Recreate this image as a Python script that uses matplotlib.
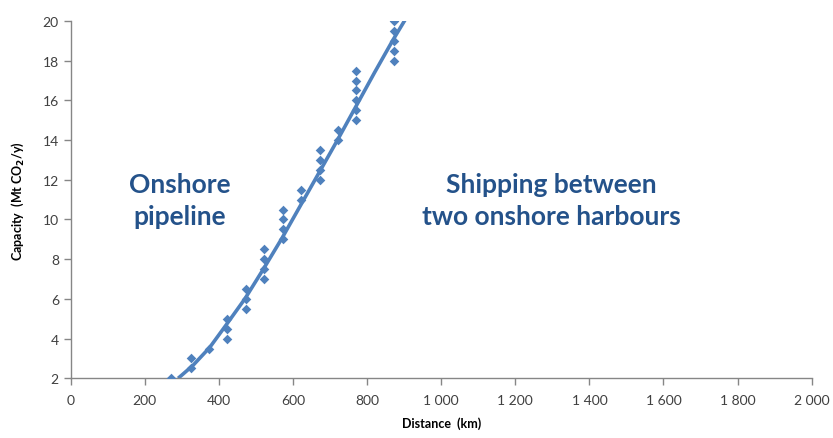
import numpy as np
import matplotlib
matplotlib.use("Agg")
import matplotlib.pyplot as plt

# scatter points (distance km, capacity Mt CO2/y)
dist = [272, 324, 324, 374,
        423, 423, 423,
        472, 472, 472,
        523, 523, 523, 523,
        572, 572, 572, 572,
        621, 621,
        672, 672, 672, 672,
        721, 721,
        770, 770, 770, 770, 770, 770,
        872, 872, 872, 872, 872]
cap = [2.0, 2.5, 3.0, 3.5,
       4.0, 4.5, 5.0,
       5.5, 6.0, 6.5,
       7.0, 7.5, 8.0, 8.5,
       9.0, 9.5, 10.0, 10.5,
       11.0, 11.5,
       12.0, 12.5, 13.0, 13.5,
       14.0, 14.5,
       15.0, 15.5, 16.0, 16.5, 17.0, 17.5,
       18.0, 18.5, 19.0, 19.5, 20.0]

# trend line
trend_x = [290, 330, 375, 420, 470, 520, 570, 620, 670, 720, 770, 820, 870, 920]
trend_y = [2.0, 2.65, 3.55, 4.7, 6.0, 7.5, 9.05, 10.7, 12.35, 14.0, 15.7, 17.4, 19.05, 20.6]

xticks = list(range(0, 2001, 200))
xlabels = ["0", "200", "400", "600", "800", "1 000", "1 200", "1 400", "1 600", "1 800", "2 000"]
yticks = list(range(2, 21, 2))

blue = "#4f81bd"
txt = "#24528a"
grey = "#868686"

plt.rcParams["font.family"] = ["Lato", "DejaVu Sans"]

fig = plt.figure(figsize=(8.33, 4.39), dpi=100)
ax = fig.add_axes([0.0849, 0.136, 0.8895, 0.8139])

ax.plot(trend_x, trend_y, color=blue, lw=2.6, solid_capstyle="butt", zorder=2)
ax.scatter(dist, cap, marker="D", s=24, color=blue, zorder=3, linewidths=0)

ax.set_xlim(0, 2000)
ax.set_ylim(2, 20)
ax.set_xticks(xticks)
ax.set_xticklabels(xlabels)
ax.set_yticks(yticks)

for s in ["top", "right"]:
    ax.spines[s].set_visible(False)
for s in ["left", "bottom"]:
    ax.spines[s].set_color(grey)
    ax.spines[s].set_linewidth(1)
ax.tick_params(direction="out", length=5, width=1, color=grey, labelsize=10,
               labelcolor="#404040")
ax.tick_params(axis="x", pad=6)

ax.set_xlabel("Distance  (km)", fontsize=9, fontweight="bold", labelpad=8)
ax.set_ylabel("Capacity  (Mt CO$_\\mathbf{2}$/y)", fontsize=9, fontweight="bold", labelpad=12)

ax.text(295, 11.0, "Onshore\npipeline", ha="center", va="center", fontsize=19,
        fontweight="bold", color=txt, linespacing=1.4)
ax.text(1297, 11.0, "Shipping between\ntwo onshore harbours", ha="center", va="center",
        fontsize=19, fontweight="bold", color=txt, linespacing=1.4)

fig.savefig("out.png", dpi=100)
